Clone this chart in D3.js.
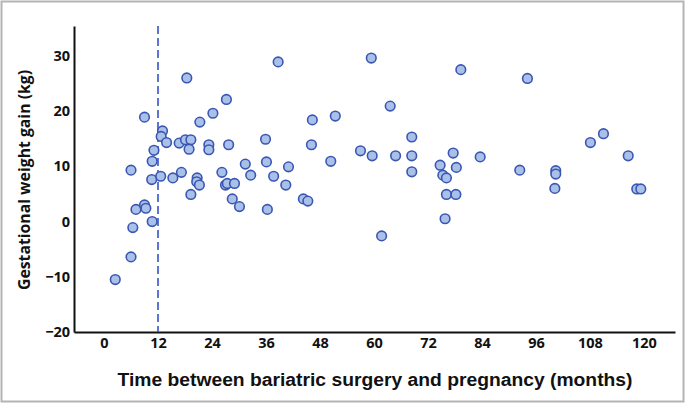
<!DOCTYPE html>
<html>
<head>
<meta charset="utf-8">
<script src="https://cdn.jsdelivr.net/npm/d3@7"></script>
<style>
  body { margin: 0; background: #fff; }
  .tick text { font-family: "Open Sans", "Liberation Sans", sans-serif; font-weight: bold; font-size: 14.5px; fill: #111; }
</style>
</head>
<body>
<div class="chart-container"></div>
<script>
// meses entre cirugia y embarazo
const months = [2.5, 6.0, 6.4, 6.0, 7.1, 9.0, 9.3, 9.0, 10.7, 10.6, 10.7, 11.1, 12.6, 13.0, 12.7, 13.9,
  15.3, 16.7, 17.2, 18.1, 19.3, 18.9, 18.4, 19.3, 20.7, 20.6, 21.2, 21.3, 23.3, 23.3, 24.2, 26.2,
  27.0, 27.4, 27.2, 27.7, 28.5, 29.0, 30.1, 31.4, 32.6, 35.9, 36.1, 36.3, 37.7, 38.7, 40.4, 41.0,
  44.3, 45.3, 46.1, 46.3, 50.4, 51.4, 57.0, 59.4, 59.6, 61.7, 63.6, 64.8, 68.4, 68.4, 68.4, 74.7,
  75.3, 76.1, 75.8, 76.1, 77.6, 78.3, 78.2, 79.3, 83.6, 92.4, 94.1, 100.4, 100.4, 100.2, 108.1,
  111.0, 116.5, 118.4, 119.3]
// ganancia de peso gestacional (kg)
const gain = [-10.5, -6.4, -1.1, 9.3, 2.2, 3.0, 2.4, 18.9, 0.0, 7.6, 10.9, 12.9, 8.2, 16.4, 15.4, 14.3,
  7.9, 14.2, 8.9, 14.8, 14.8, 13.1, 26.0, 4.9, 7.9, 7.2, 6.6, 18.0, 13.9, 13.0, 19.6, 8.9,
  6.6, 6.9, 22.1, 13.9, 4.1, 6.9, 2.7, 10.4, 8.4, 14.9, 10.8, 2.2, 8.2, 28.9, 6.6, 9.9,
  4.1, 3.7, 13.9, 18.4, 10.9, 19.1, 12.8, 29.6, 11.9, -2.6, 20.9, 11.9, 15.3, 11.9, 9.0, 10.2,
  8.4, 7.9, 0.5, 4.9, 12.4, 9.8, 4.9, 27.5, 11.7, 9.3, 25.9, 9.2, 8.6, 6.0, 14.3,
  15.9, 11.9, 5.9, 5.9]
const xTicks = [0, 12, 24, 36, 48, 60, 72, 84, 96, 108, 120]
const yTicks = [-20, -10, 0, 10, 20, 30]
const cutoff = 12

const WIDTH = 685
const HEIGHT = 404
const margin = { top: 26, bottom: 72, left: 74, right: 10 }

const svg = d3.select(".chart-container")
  .append("svg")
  .attr("width", WIDTH)
  .attr("height", HEIGHT)

// marco gris
svg.append("rect")
  .attr("x", 1.5).attr("y", 1.5)
  .attr("width", WIDTH - 3).attr("height", HEIGHT - 4)
  .attr("fill", "none")
  .attr("stroke", "#b4b4b4")
  .attr("stroke-width", 2)

const xScale = d3.scaleLinear().domain([-6.67, 126.9]).range([margin.left, WIDTH - margin.right])
const yScale = d3.scaleLinear().domain([-20, 35.4]).range([HEIGHT - margin.bottom, margin.top])

// Ejes
const xAxis = svg.append("g")
  .attr("transform", `translate(0, ${HEIGHT - margin.bottom})`)
  .call(d3.axisBottom(xScale).tickValues(xTicks).tickSize(0).tickPadding(6).tickSizeOuter(0))
xAxis.select(".domain").attr("stroke", "#111").attr("stroke-width", 2)

const yAxis = svg.append("g")
  .attr("transform", `translate(${margin.left}, 0)`)
  .call(d3.axisLeft(yScale).tickValues(yTicks).tickSize(0).tickPadding(4).tickSizeOuter(0))
yAxis.select(".domain").attr("stroke", "#111").attr("stroke-width", 2)

// linea de corte a los 12 meses
svg.append("line")
  .attr("x1", xScale(cutoff)).attr("x2", xScale(cutoff))
  .attr("y1", margin.top).attr("y2", HEIGHT - margin.bottom)
  .attr("stroke", "#3355c8")
  .attr("stroke-width", 1.6)
  .attr("stroke-dasharray", "8,4")

// puntos
const points = months.map((m, i) => ({ x: m, y: gain[i] }))
svg.append("g")
  .selectAll("circle")
  .data(points)
  .join("circle")
  .attr("cx", d => xScale(d.x))
  .attr("cy", d => yScale(d.y))
  .attr("r", 4.8)
  .attr("fill", "#a9c1e8")
  .attr("stroke", "#3a56b3")
  .attr("stroke-width", 1.6)

// Titulos de ejes
svg.append("text")
  .attr("x", 375)
  .attr("y", 386)
  .attr("text-anchor", "middle")
  .attr("textLength", 515)
  .attr("lengthAdjust", "spacingAndGlyphs")
  .style("font-family", "'Liberation Sans', Arial, sans-serif")
  .style("font-weight", "bold")
  .style("font-size", "18px")
  .attr("fill", "#111")
  .text("Time between bariatric surgery and pregnancy (months)")

svg.append("text")
  .attr("transform", `translate(30, 180) rotate(-90)`)
  .attr("text-anchor", "middle")
  .attr("textLength", 220)
  .attr("lengthAdjust", "spacingAndGlyphs")
  .style("font-family", "'Open Sans', sans-serif")
  .style("font-weight", "bold")
  .style("font-size", "16px")
  .attr("fill", "#111")
  .text("Gestational weight gain (kg)")
</script>
</body>
</html>
